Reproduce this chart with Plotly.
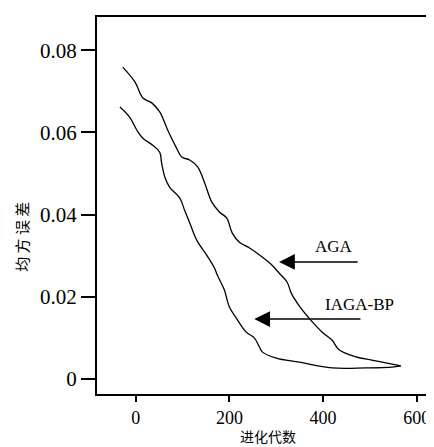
import plotly.graph_objects as go

# AGA curve
aga_x = [-28, -2, 15, 34, 51, 68, 87, 98, 115, 132, 147, 162, 179, 194, 206, 221, 243, 270, 291,
         306, 323, 332, 349, 377, 398, 419, 434, 470, 504, 534, 566]
aga_y = [0.0759, 0.0723, 0.0684, 0.0672, 0.0650, 0.0606, 0.0562, 0.0540, 0.0533, 0.0516, 0.0477,
         0.0431, 0.0406, 0.0392, 0.0355, 0.0333, 0.0319, 0.0297, 0.0277, 0.0258, 0.0236, 0.0209,
         0.0178, 0.0139, 0.0114, 0.0095, 0.0071, 0.0054, 0.0046, 0.0039, 0.0032]

# IAGA-BP curve
iaga_x = [-34, -13, 2, 15, 36, 51, 55, 62, 72, 94, 104, 115, 130, 151, 168, 174, 189, 200, 217,
          236, 253, 264, 270, 300, 349, 419, 491, 547, 566]
iaga_y = [0.0662, 0.0637, 0.0606, 0.0586, 0.0569, 0.0552, 0.0526, 0.0491, 0.0467, 0.0440, 0.0411,
          0.0380, 0.0338, 0.0302, 0.0270, 0.0253, 0.0217, 0.0175, 0.0144, 0.0114, 0.0100, 0.0078,
          0.0066, 0.0051, 0.0041, 0.0027, 0.0027, 0.0029, 0.0032]

x_ticks = [0, 200, 400, 600]
y_ticks = [0, 0.02, 0.04, 0.06, 0.08]
y_tick_text = ["0", "0.02", "0.04", "0.06", "0.08"]

serif = "Liberation Serif"
cjk = "Noto Sans CJK SC"

fig = go.Figure()
fig.add_trace(go.Scatter(x=aga_x, y=aga_y, mode="lines", name="AGA",
                         line=dict(color="black", width=1.3), line_shape="spline"))
fig.add_trace(go.Scatter(x=iaga_x, y=iaga_y, mode="lines", name="IAGA-BP",
                         line=dict(color="black", width=1.3), line_shape="spline"))

# arrows with labels
fig.add_annotation(x=306, y=0.0285, ax=477, ay=0.0285, xref="x", yref="y", axref="x", ayref="y",
                   text="", showarrow=True, arrowhead=2, arrowsize=2.1, arrowwidth=1.5,
                   arrowcolor="black")
fig.add_annotation(x=423, y=0.0323, text="AGA", showarrow=False,
                   font=dict(family=serif, size=17, color="black"))
fig.add_annotation(x=253, y=0.0146, ax=483, ay=0.0146, xref="x", yref="y", axref="x", ayref="y",
                   text="", showarrow=True, arrowhead=2, arrowsize=2.1, arrowwidth=1.5,
                   arrowcolor="black")
fig.add_annotation(x=477, y=0.0182, text="IAGA-BP", showarrow=False,
                   font=dict(family=serif, size=17, color="black"))

# axis titles
fig.add_annotation(xref="paper", yref="paper", x=-0.229, y=0.418, xanchor="center",
                   yanchor="middle", text="均 方 误 差", textangle=-90,
                   showarrow=False, font=dict(family=cjk, size=15, color="black"))
fig.add_annotation(xref="paper", yref="paper", x=0.518, y=-0.111, xanchor="center",
                   yanchor="middle", text="进化代数",
                   showarrow=False, font=dict(family=cjk, size=14, color="black"))

fig.update_xaxes(range=[-83, 622], tickvals=x_ticks, ticks="outside", ticklen=6, tickwidth=2,
                 tickcolor="black", showline=True, linewidth=2, linecolor="black", mirror=True,
                 showgrid=False, zeroline=False, automargin=False,
                 tickfont=dict(family=serif, size=18, color="black"))
fig.update_yaxes(range=[-0.00365, 0.0881], tickvals=y_ticks, ticktext=y_tick_text,
                 ticks="outside", ticklen=14, tickwidth=2, tickcolor="black",
                 showline=True, linewidth=2, linecolor="black", mirror=True,
                 showgrid=False, zeroline=False, automargin=False,
                 tickfont=dict(family=serif, size=21, color="black"))

# page body has an 8px default margin; size the figure to fit the 434x447 window
fig.update_layout(width=426, height=439, margin=dict(l=89, r=7, t=9, b=53, autoexpand=False),
                  paper_bgcolor="white", plot_bgcolor="white", showlegend=False)

fig.write_html("out.html")
